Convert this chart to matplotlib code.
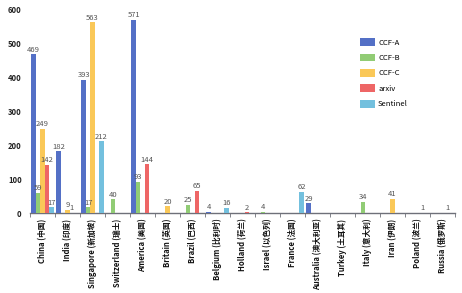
import matplotlib
matplotlib.use("Agg")
import matplotlib.pyplot as plt
import numpy as np

plt.rcParams["font.family"] = ["Noto Sans CJK SC", "DejaVu Sans"]

countries = ["China (中国)", "India (印度)", "Singapore (新加坡)", "Switzerland (瑞士)",
             "America (美国)", "Britain (英国)", "Brazil (巴西)", "Belgium (比利时)",
             "Holland (荷兰)", "Israel (以色列)", "France (法国)", "Australia (澳大利亚)",
             "Turkey (土耳其)", "Italy (意大利)", "Iran (伊朗)", "Poland (波兰)",
             "Russia (俄罗斯)"]
ccf_a = [469, 182, 393, 0, 571, 0, 0, 4, 0, 0, 0, 29, 0, 0, 0, 0, 0]
ccf_b = [59, 0, 17, 40, 93, 0, 25, 0, 0, 4, 0, 0, 0, 34, 0, 0, 0]
ccf_c = [249, 9, 563, 0, 0, 20, 0, 0, 0, 0, 0, 0, 0, 0, 41, 0, 0]
arxiv = [142, 1, 0, 0, 144, 0, 65, 0, 2, 0, 0, 0, 0, 0, 0, 1, 1]
sentinel = [17, 0, 212, 0, 0, 0, 0, 16, 0, 0, 62, 0, 0, 0, 0, 0, 0]
series = [("CCF-A", ccf_a), ("CCF-B", ccf_b), ("CCF-C", ccf_c),
          ("arxiv", arxiv), ("Sentinel", sentinel)]
colors = ["#5470c6", "#91cc75", "#fac858", "#ee6666", "#73c0de"]

fig = plt.figure(figsize=(4.62, 2.93), dpi=100)
ax = fig.add_axes([0.065, 0.273, 0.92, 0.693])

x = np.arange(len(countries))
w = 0.178
for i, ((name, vals), c) in enumerate(zip(series, colors)):
    pos = x + (i - 2) * w
    ax.bar(pos, vals, width=w, color=c, label=name, zorder=3)
    for p, v in zip(pos, vals):
        if v:
            ax.text(p, v + 2, str(v), ha="center", va="bottom", fontsize=5.5,
                    color="#555555", zorder=4)

ax.set_xlim(-0.5, len(countries) - 0.5)
ax.set_ylim(0, 600)
ax.set_yticks(range(0, 601, 100))
ax.set_yticklabels([str(t) for t in range(0, 601, 100)], fontsize=5.5,
                   fontweight="bold", color="#222222")
ax.set_xticks(x)
ax.set_xticklabels(countries, rotation=90, fontsize=5.5, fontweight="bold",
                   color="#111111")
ax.set_xticks(np.arange(-0.5, len(countries), 1), minor=True)
ax.tick_params(axis="x", which="major", length=0, pad=4)
ax.tick_params(axis="x", which="minor", length=3, color="#6e7079")
ax.tick_params(axis="y", length=0, pad=6)
for s in ["top", "right", "left"]:
    ax.spines[s].set_visible(False)
ax.spines["bottom"].set_color("#6e7079")
ax.spines["bottom"].set_linewidth(1)

fig.legend(loc="upper left", bbox_to_anchor=(0.772, 0.88), frameon=False,
           fontsize=5.5, handlelength=2.0, handleheight=1.2, labelspacing=0.9,
           handletextpad=0.4, borderaxespad=0)

fig.savefig("out.png", dpi=100)
